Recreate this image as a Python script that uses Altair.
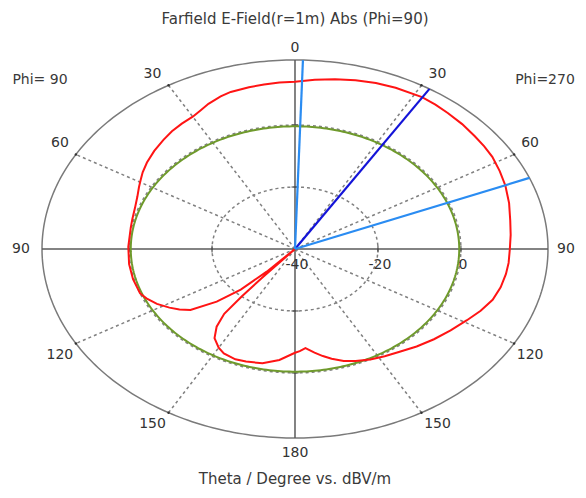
import altair as alt
import pandas as pd

# ---------------- data ----------------
# Phi=270 half (drawn on the right), theta in degrees, value in dBV/m
theta_270 = [0, 5, 10, 15, 20, 25, 32, 36, 40, 45, 50, 54, 58, 63, 68, 74, 80, 85, 90, 95, 99, 104,
             109, 114, 119, 125, 131, 137, 143, 148, 153, 158, 162, 166, 169, 172, 175.5, 178, 180]
db_270 = [14.0, 14.8, 15.6, 16.4, 17.0, 17.4, 17.8, 17.6, 17.3, 17.0, 16.6, 16.4, 16.1, 15.4, 14.7,
          13.7, 12.7, 12.2, 11.8, 11.7, 11.5, 11.1, 10.4, 9.0, 7.4, 5.8, 4.4, 3.0, 1.6, 0.8, 0.0,
          -1.0, -2.0, -3.5, -4.8, -6.2, -7.9, -7.0, -6.5]
# Phi=90 half (drawn on the left)
theta_90 = [0, 4, 8, 12, 17, 20, 24, 27, 30, 34, 38, 42, 47, 52, 56, 59, 62, 66, 71, 76, 80, 89, 97,
            104, 111, 114, 118, 122, 125, 128, 132, 135, 137, 138.5, 139.5, 140, 140.8, 143, 146,
            150, 153, 158, 162, 168, 174, 180]
db_90 = [14.0, 13.9, 13.6, 13.4, 13.0, 12.4, 11.3, 10.2, 9.3, 8.8, 8.2, 7.4, 6.4, 5.3, 4.3, 3.4, 2.6,
         1.6, 0.8, 0.4, 0.2, 0.2, 0.3, 0.25, 0.0, -0.8, -2.3, -4.3, -6.0, -8.0, -14.6, -21.5, -30.0,
         -40.0, -28.0, -20.0, -13.0, -8.6, -5.3, -3.2, -2.2, -1.6, -1.8, -2.3, -4.0, -6.5]
green_db = -0.4                      # second (green) trace, nearly constant
main_lobe = [32.1]                   # main lobe direction (dark blue)
beam_3db = [1.8, 67.9]               # 3 dB beam width limits (light blue)
ring_db = [-20, 0]                   # dotted radial grid circles
radial_labels = ["-40", "-20", "0"]
radial_values = [-40, -20, 0]
spoke_deg = [30, 60, 120, 150, 210, 240, 300, 330]
axis_deg = [0, 90, 180, 270]
lab_deg = [0, 30, 60, 90, 120, 150, 180, 210, 240, 270, 300, 330]
lab_txt = ["0", "30", "60", "90", "120", "150", "180", "150", "120", "90", "60", "30"]

RMIN, SPAN = -40.0, 61.0
R = f"max(0, (datum.db - ({RMIN})) / {SPAN})"
FONT = "DejaVu Sans"

xs = alt.Scale(domain=[-1.1344, 1.1186], nice=False, zero=False)
ys = alt.Scale(domain=[-1.2751, 1.2751], nice=False, zero=False)


def X(f):
    return alt.X(f, type="quantitative", scale=xs, axis=None)


def Y(f):
    return alt.Y(f, type="quantitative", scale=ys, axis=None)


def ring(r_expr, **mark):
    return (alt.Chart(alt.sequence(0, 361, 1, as_="deg"))
            .transform_calculate(r=r_expr)
            .transform_calculate(x="datum.r*sin(datum.deg*PI/180)", y="datum.r*cos(datum.deg*PI/180)")
            .mark_line(**mark)
            .encode(x=X("x"), y=Y("y"), order="deg:Q"))


outer = ring("1", color="#7a7a7a", strokeWidth=1.5)
grid_rings = alt.layer(*[ring(f"({d} - ({RMIN}))/{SPAN}", color="#808080", strokeWidth=1.5,
                              strokeDash=[3, 3]) for d in ring_db])

spokes = (alt.Chart(pd.DataFrame({"deg": spoke_deg}))
          .transform_calculate(x0="0", y0="0",
                               x1="sin(datum.deg*PI/180)", y1="cos(datum.deg*PI/180)")
          .mark_rule(color="#808080", strokeWidth=1.5, strokeDash=[3, 3])
          .encode(x=X("x0"), y=Y("y0"), x2="x1:Q", y2="y1:Q"))

axes = (alt.Chart(pd.DataFrame({"deg": axis_deg}))
        .transform_calculate(x0="0", y0="0",
                             x1="sin(datum.deg*PI/180)", y1="cos(datum.deg*PI/180)")
        .mark_rule(color="#5a5a5a", strokeWidth=1.5)
        .encode(x=X("x0"), y=Y("y0"), x2="x1:Q", y2="y1:Q"))

rim_ticks = (alt.Chart(pd.DataFrame({"deg": spoke_deg}))
             .transform_calculate(x="sin(datum.deg*PI/180)", y="cos(datum.deg*PI/180)")
             .mark_point(filled=True, size=6, color="#333333", opacity=1)
             .encode(x=X("x"), y=Y("y")))

tick_df = pd.DataFrame({"db": ring_db * 2, "s": [1] * len(ring_db) + [-1] * len(ring_db)})
h_ticks = (alt.Chart(tick_df).transform_calculate(x=f"datum.s*{R}", y="0")
           .mark_tick(orient="vertical", size=7, thickness=1.5, color="#444444")
           .encode(x=X("x"), y=Y("y")))
v_ticks = (alt.Chart(tick_df).transform_calculate(y=f"datum.s*{R}", x="0")
           .mark_tick(orient="horizontal", size=7, thickness=1.5, color="#444444")
           .encode(x=X("x"), y=Y("y")))

green = ring(f"({green_db} - ({RMIN}))/{SPAN}", color="#6f9a2c", strokeWidth=2)

red_df = pd.concat([
    pd.DataFrame({"side": "270", "theta": theta_270, "db": db_270}),
    pd.DataFrame({"side": "90", "theta": theta_90, "db": db_90}),
])
red = (alt.Chart(red_df)
       .transform_calculate(a="datum.side == '270' ? datum.theta : 360 - datum.theta", r=R)
       .transform_calculate(x="datum.r*sin(datum.a*PI/180)", y="datum.r*cos(datum.a*PI/180)")
       .mark_line(color="#ff1414", strokeWidth=2)
       .encode(x=X("x"), y=Y("y"), order="a:Q"))

beam_df = pd.DataFrame({"deg": main_lobe + beam_3db,
                        "kind": ["main"] * len(main_lobe) + ["3dB"] * len(beam_3db)})
beams = (alt.Chart(beam_df)
         .transform_calculate(x0="0", y0="0",
                              x1="sin(datum.deg*PI/180)", y1="cos(datum.deg*PI/180)")
         .mark_rule(strokeWidth=2.2)
         .encode(x=X("x0"), y=Y("y0"), x2="x1:Q", y2="y1:Q",
                 color=alt.Color("kind:N", scale=alt.Scale(domain=["main", "3dB"],
                                                           range=["#1414d8", "#2a8cf2"]),
                                 legend=None)))

ang_labels = (alt.Chart(pd.DataFrame({"deg": lab_deg, "t": lab_txt}))
              .transform_calculate(s="sin(datum.deg*PI/180)", c="cos(datum.deg*PI/180)")
              .transform_calculate(
                  lx="datum.s + (abs(datum.s) < 0.01 ? 0 : (abs(datum.c) < 0.01 ? (datum.s > 0 ? 18 : -21) : (datum.s > 0 ? 16 : -16)) / 253)",
                  ly="datum.c + (abs(datum.c) < 0.01 ? 0 : (abs(datum.s) < 0.01 ? (datum.c > 0 ? 12 : -15) : (datum.c > 0 ? 11 : -11)) / 189)")
              .mark_text(font=FONT, fontSize=14, color="#333333", align="center", baseline="middle")
              .encode(x=X("lx"), y=Y("ly"), text="t:N"))

rad_labels = (alt.Chart(pd.DataFrame({"db": radial_values, "t": radial_labels}))
              .transform_calculate(x=R, y="0")
              .mark_text(font=FONT, fontSize=14, color="#333333", align="center", baseline="middle",
                         dx=2, dy=16)
              .encode(x=X("x"), y=Y("y"), text="t:N"))


def note(txt, px, py, size=15):
    return (alt.Chart(pd.DataFrame({"t": [txt]}))
            .mark_text(font=FONT, fontSize=size, color="#3a3a3a", align="center", baseline="middle")
            .encode(x=alt.value(px), y=alt.value(py), text="t:N"))


title = note("Farfield E-Field(r=1m) Abs (Phi=90)", 287, 11)
phi_l = note("Phi= 90", 32, 72, 14)
phi_r = note("Phi=270", 537, 72, 14)
bottom = note("Theta / Degree vs. dBV/m", 287, 471)

chart = (alt.layer(grid_rings, spokes, outer, axes, rim_ticks, h_ticks, v_ticks, green, red, beams,
                   ang_labels, rad_labels, title, phi_l, phi_r, bottom)
         .properties(width=570, height=482, padding=0, autosize="none")
         .configure_view(strokeWidth=0))

chart.save("out.html", embed_options={"renderer": "svg", "actions": False})
